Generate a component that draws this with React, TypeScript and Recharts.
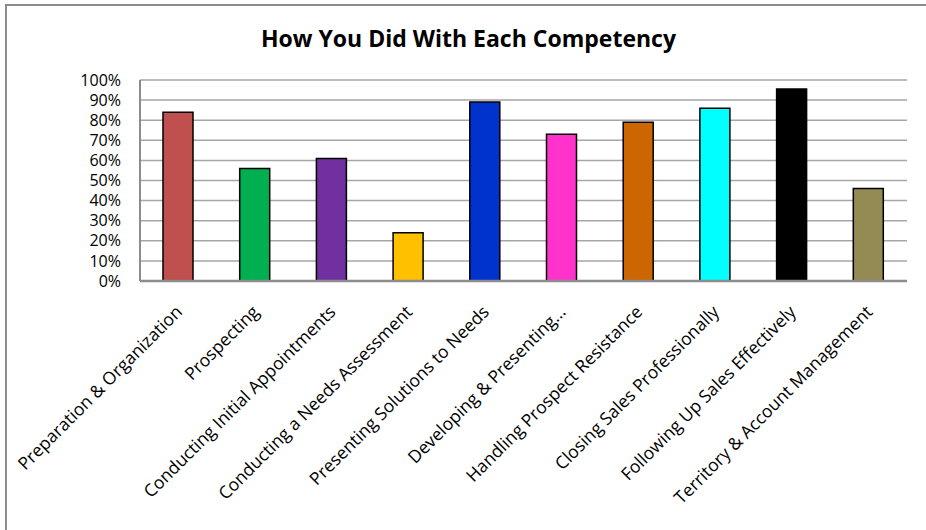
import React from "react";
import { BarChart, Bar, XAxis, YAxis, CartesianGrid, Cell } from "recharts";

const categories = [
  "Preparation & Organization",
  "Prospecting",
  "Conducting Initial Appointments",
  "Conducting a Needs Assessment",
  "Presenting Solutions to Needs",
  "Developing & Presenting...",
  "Handling Prospect Resistance",
  "Closing Sales Professionally",
  "Following Up Sales Effectively",
  "Territory & Account Management",
];
const scores = [0.84, 0.56, 0.61, 0.24, 0.89, 0.73, 0.79, 0.86, 0.955, 0.46];
const barColors = [
  "#C0504D",
  "#00B050",
  "#7030A0",
  "#FFC000",
  "#0033CC",
  "#FF33CC",
  "#CC6600",
  "#00FFFF",
  "#000000",
  "#948A54",
];
const yTicks = [0, 0.1, 0.2, 0.3, 0.4, 0.5, 0.6, 0.7, 0.8, 0.9, 1];
const title = "How You Did With Each Competency";

const data = categories.map((name, i) => ({ name, value: scores[i], color: barColors[i] }));

const FONT = "'Open Sans', sans-serif";

const CategoryTick = (props: any) => {
  const { x, y, payload } = props;
  return (
    <g transform={`translate(${x + 5},${y + 32})`}>
      <text
        x={0}
        y={0}
        textAnchor="end"
        transform="rotate(-45)"
        fontFamily={FONT}
        fontSize={17.5}
        fill="#000"
      >
        {payload.value}
      </text>
    </g>
  );
};

export default function App() {
  return (
    <div style={{ position: "absolute", left: 0, top: 0, width: 926, height: 530, background: "#fff" }}>
      <div
        style={{
          position: "absolute",
          left: 5,
          top: 4,
          width: 921,
          height: 526,
          borderTop: "2px solid #8c8c8c",
          borderLeft: "2px solid #8c8c8c",
          boxSizing: "border-box",
        }}
      />
      <svg style={{ position: "absolute", left: 0, top: 0 }} width={926} height={60}>
        <text x={468.5} y={47} textAnchor="middle" fontFamily={FONT} fontWeight={700} fontSize={23} fill="#000">
          {title}
        </text>
      </svg>
      <div style={{ position: "absolute", left: 0, top: 0 }}>
        <BarChart
          width={926}
          height={530}
          data={data}
          margin={{ top: 80, right: 19, left: 0, bottom: 0 }}
        >
          <CartesianGrid vertical={false} horizontal={true} stroke="#A6A6A6" strokeWidth={1.5} />
          <YAxis
            width={140}
            domain={[0, 1]}
            ticks={yTicks}
            interval={0}
            tickFormatter={(v: number) => `${Math.round(v * 100)}%`}
            tickLine={false}
            tickSize={6}
            tickMargin={13}
            axisLine={{ stroke: "#8c8c8c", strokeWidth: 2 }}
            tick={{ fontFamily: FONT, fontSize: 16, fill: "#000" }}
          />
          <XAxis
            dataKey="name"
            height={249}
            interval={0}
            tickLine={false}
            tickSize={0}
            tickMargin={0}
            axisLine={{ stroke: "#8c8c8c", strokeWidth: 2.5 }}
            tick={<CategoryTick />}
          />
          <Bar dataKey="value" barSize={30} stroke="#000" strokeWidth={1.5} isAnimationActive={false}>
            {data.map((d, i) => (
              <Cell key={i} fill={d.color} />
            ))}
          </Bar>
        </BarChart>
      </div>
    </div>
  );
}
